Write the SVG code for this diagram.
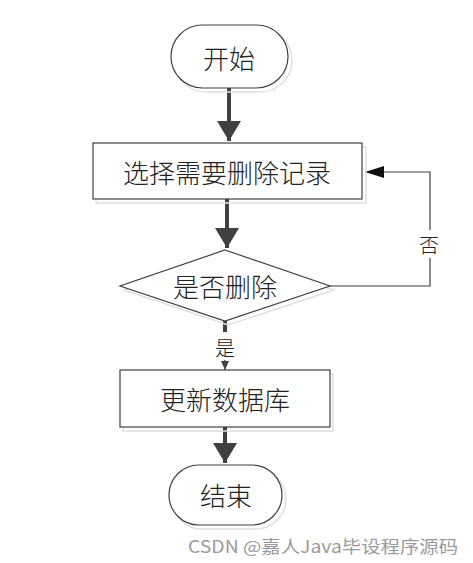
<svg xmlns="http://www.w3.org/2000/svg" width="473" height="563" viewBox="0 0 473 563">
<style>
.shape{fill:#fff;stroke:#404040;stroke-width:1.2}
.shadow{fill:none;stroke:#e0e0e0;stroke-width:1.5}
.t{font-family:"Noto Sans CJK SC","Liberation Sans",sans-serif;font-size:26px;font-weight:300;fill:#222;text-anchor:middle;dominant-baseline:central}
.lbl{font-family:"Noto Sans CJK SC","Liberation Sans",sans-serif;font-size:20px;font-weight:300;fill:#222;text-anchor:middle;dominant-baseline:central}
.thick{stroke:#404040;stroke-width:4;fill:none}
.thin{stroke:#404040;stroke-width:1.2;fill:none}
</style>
<defs>
<marker id="big" markerWidth="6" markerHeight="6" refX="5" refY="3" orient="auto" markerUnits="strokeWidth"><path d="M0,0 L5,3 L0,6 Z" fill="#404040"/></marker>
<marker id="mid" markerWidth="20" markerHeight="12" refX="19" refY="6" orient="auto" markerUnits="userSpaceOnUse"><path d="M0,0 L19,6 L0,12 Z" fill="#111"/></marker>
<marker id="small" markerWidth="10" markerHeight="8" refX="9" refY="4" orient="auto" markerUnits="userSpaceOnUse"><path d="M0,0 L9,4 L0,8 Z" fill="#404040"/></marker>
</defs>
<rect width="473" height="563" fill="#fff"/>
<g id="connectors">
<line class="thick" x1="229" y1="88" x2="229" y2="141" marker-end="url(#big)"/>
<line class="thick" x1="227" y1="199" x2="227" y2="248" marker-end="url(#big)"/>
<polyline class="thin" points="330,286 430,286 430,172 365,172" marker-end="url(#mid)"/>
<rect x="418" y="230" width="22" height="28" fill="#fff"/>
<text class="lbl" x="429" y="244">否</text>
<line class="thick" x1="225" y1="320" x2="225" y2="332"/>
<text class="lbl" x="225" y="347">是</text>
<line class="thin" x1="225" y1="360" x2="225" y2="370" marker-end="url(#small)"/>
<line class="thick" x1="225" y1="427" x2="225" y2="463" marker-end="url(#big)"/>
</g>
<g id="start">
<rect class="shadow" x="174" y="29" width="118" height="63" rx="31.5"/>
<rect class="shape" x="171" y="25" width="117" height="63" rx="31.5"/>
<text class="t" x="229" y="57">开始</text>
</g>
<g id="select">
<rect class="shadow" x="96" y="147" width="270" height="56"/>
<rect class="shape" x="93" y="143" width="269" height="56"/>
<text class="t" x="227" y="171">选择需要删除记录</text>
</g>
<g id="decide">
<polygon class="shadow" points="228,254 334,290 228,325 124,290"/>
<polygon class="shape" points="225,250 330,286 225,321 120,286"/>
<text class="t" x="225" y="285">是否删除</text>
</g>
<g id="update">
<rect class="shadow" x="123" y="374" width="210" height="57"/>
<rect class="shape" x="120" y="370" width="210" height="57"/>
<text class="t" x="225" y="398">更新数据库</text>
</g>
<g id="end">
<rect class="shadow" x="172" y="469" width="114" height="60" rx="30"/>
<rect class="shape" x="169" y="465" width="113" height="60" rx="30"/>
<text class="t" x="226" y="494">结束</text>
</g>
<text x="188" y="545" font-family="Noto Sans CJK SC,Liberation Sans,sans-serif" font-size="17" fill="#9a9a9a" textLength="270" lengthAdjust="spacingAndGlyphs" dominant-baseline="central">CSDN @嘉人Java毕设程序源码</text>
</svg>
